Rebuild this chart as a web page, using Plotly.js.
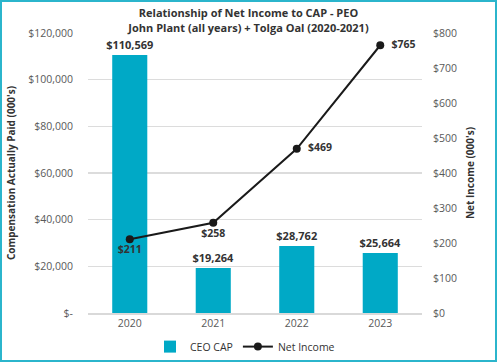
<!DOCTYPE html>
<html>
<head>
<meta charset="utf-8">
<script src="https://cdn.plot.ly/plotly-3.0.1.min.js"></script>
<style>
  html, body { margin: 0; padding: 0; background: #fff; }
  #wrap { width: 497px; height: 362px; box-sizing: border-box; border: 2px solid #2bb5cc; position: relative; overflow: hidden; }
  #chart { position: absolute; left: -2px; top: -2px; width: 497px; height: 362px; }
</style>
</head>
<body>
<div id="wrap"><div id="chart"></div></div>
<script>
const years = ['2020', '2021', '2022', '2023'];
const ceoCap = [110569, 19264, 28762, 25664];
const netIncome = [211, 258, 469, 765];
const leftTickVals = [0, 20000, 40000, 60000, 80000, 100000, 120000];
const leftTickText = ['$-', '$20,000', '$40,000', '$60,000', '$80,000', '$100,000', '$120,000'];
const netLabelPos = ['bottom center', 'bottom center', 'middle right', 'middle right'];

const fmt = v => '$' + v.toLocaleString('en-US');
const FONT = 'Open Sans, sans-serif';

const bar = {
  type: 'bar', name: 'CEO CAP', x: years, y: ceoCap,
  marker: { color: '#00a9c6' }, width: 0.42,
  text: ceoCap.map(fmt), textposition: 'outside', cliponaxis: false, constraintext: 'none',
  textfont: { family: FONT, size: 11, color: '#333', weight: 'bold' },
  hoverinfo: 'none'
};
const line = {
  type: 'scatter', mode: 'lines+markers+text', name: 'Net Income', x: years, y: netIncome,
  yaxis: 'y2', line: { color: '#1a1a1a', width: 2 },
  marker: { color: '#1a1a1a', size: 8 },
  text: netIncome.map((v, i) => (netLabelPos[i] === 'middle right' ? '\u2002' : '') + fmt(v)),
  textposition: netLabelPos, cliponaxis: false,
  textfont: { family: FONT, size: 10.5, color: '#333', weight: 'bold' },
  hoverinfo: 'none'
};

const layout = {
  width: 497, height: 362,
  margin: { l: 88, r: 75, t: 33, b: 49, autoexpand: false },
  paper_bgcolor: 'rgba(0,0,0,0)', plot_bgcolor: '#fff',
  font: { family: FONT, size: 10.5, color: '#595959' },
  title: {
    text: 'Relationship of Net Income to CAP - PEO<br>John Plant (all years) + Tolga Oal (2020-2021)',
    font: { family: FONT, size: 11, color: '#333', weight: 'bold' },
    x: 0.5, xanchor: 'center', y: 0.952, yanchor: 'middle'
  },
  showlegend: true,
  legend: {
    orientation: 'h', x: 0.47, xanchor: 'center', y: -0.12, yanchor: 'middle',
    font: { family: FONT, size: 10.5, color: '#333' }, traceorder: 'normal',
    itemwidth: 30
  },
  xaxis: {
    type: 'category', showgrid: false, showline: true, linecolor: '#d9d9d9', linewidth: 1.5,
    tickfont: { family: FONT, size: 10.5, color: '#595959' }, ticks: '', fixedrange: true
  },
  yaxis: {
    range: [0, 120000], tickvals: leftTickVals, ticktext: leftTickText,
    showgrid: true, gridcolor: '#dcdcdc', gridwidth: 1.5, zeroline: false,
    ticklabelstandoff: 14,
    tickfont: { family: FONT, size: 10.5, color: '#595959' },
    title: { text: "Compensation Actually Paid (000's)", font: { family: FONT, size: 10, color: '#333', weight: 'bold' }, standoff: 10 }
  },
  yaxis2: {
    overlaying: 'y', side: 'right', range: [0, 800], dtick: 100, tickprefix: '$',
    showgrid: false, zeroline: false, ticklabelstandoff: 10,
    tickfont: { family: FONT, size: 10.5, color: '#595959' },
    title: { text: "Net Income (000's)", font: { family: FONT, size: 10, color: '#333', weight: 'bold' }, standoff: 10 }
  },
  bargap: 0.58
};

Plotly.newPlot('chart', [bar, line], layout, { displayModeBar: false, staticPlot: true });
</script>
</body>
</html>
